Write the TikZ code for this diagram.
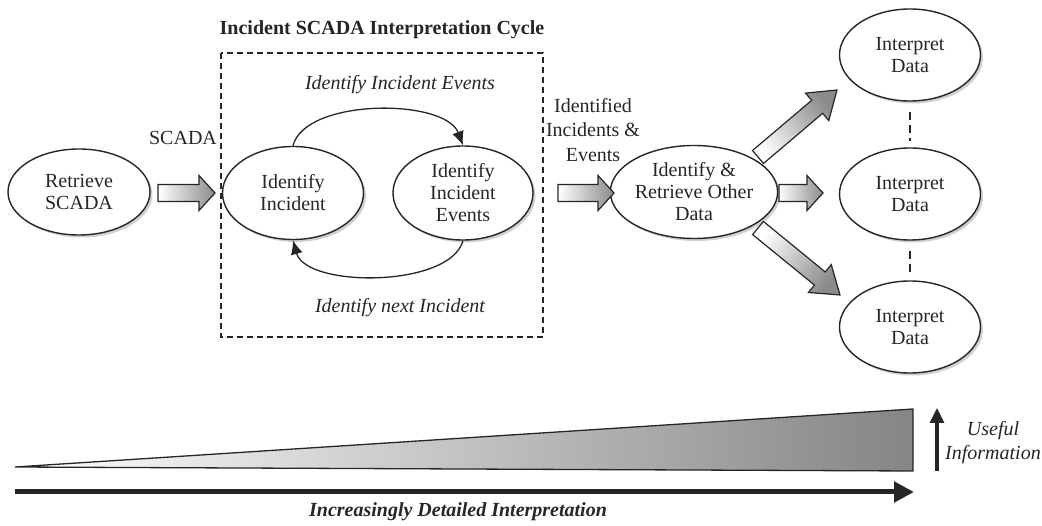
\documentclass[tikz,border=0pt]{standalone}
\usepackage{fontspec}
\setmainfont{Liberation Serif}
\usetikzlibrary{calc,shadows,shapes.geometric,arrows.meta}
\definecolor{ink}{HTML}{262626}
\definecolor{headgray}{HTML}{8A8A8A}
\definecolor{wedgegray}{HTML}{858585}
\tikzset{
  txt/.style={font=\fontsize{20}{22}\selectfont, text=ink, align=center, inner sep=0pt},
  itxt/.style={txt, font=\fontsize{20}{24}\selectfont\itshape},
  stage/.style={txt, ellipse, draw=ink, line width=1.4pt, fill=white,
    minimum width=141pt, minimum height=92pt,
    drop shadow={shadow xshift=2.5pt, shadow yshift=-2.5pt, fill=black!30, opacity=.6}},
  cycarrow/.style={draw=ink, line width=1.3pt, -{Latex[length=14pt,width=12pt]}},
  pics/fatarrow/.style n args={4}{code={
    \shade[draw=ink, line width=1.2pt, left color=white, right color=headgray, shading angle=#4]
      (0,-8.5) -- ({#1-#2},-8.5) -- ({#1-#2},-#3) -- (#1,0) -- ({#1-#2},#3)
      -- ({#1-#2},8.5) -- (0,8.5) -- cycle;}}
}
% block arrow from one named coordinate to another: head length, head half width
\newcommand\fatlink[4]{%
  \path let \p1=($(#2)-(#1)$), \n1={atan2(\y1,\x1)}, \n2={veclen(\x1,\y1)},
    \n3={\n1+90} in pic[rotate=\n1] at (#1) {fatarrow={\n2}{#3}{#4}{\n3}};}
\begin{document}
\begin{tikzpicture}[x=1pt,y=1pt]
\fill[white] (0,0) rectangle (1042,-526);
\useasboundingbox (0,0) rectangle (1042,-526);

% cycle frame and its labels
\node[txt, font=\fontsize{20}{22}\selectfont\bfseries] (title) at (382,-30) {Incident SCADA Interpretation Cycle};
\draw[ink, line width=1.2pt, dash pattern=on 6pt off 4pt] (221,-53) rectangle (543,-337);
\node[itxt] (upper) at (400,-85) {Identify Incident Events};
\node[itxt] (lower) at (400,-308) {Identify next Incident};
\node[txt] (scada) at (183,-138) {SCADA};
\node[txt, font=\fontsize{20}{24.5}\selectfont] (ident) at (593,-130) {Identified\\Incidents \&\\Events};

% process stages
\node[stage, minimum width=142pt, minimum height=86pt] (rs) at (79,-192) {Retrieve\\SCADA};
\node[stage, minimum height=93pt] (ii) at (293,-193) {Identify\\Incident};
\node[stage, minimum width=140pt, minimum height=94pt] (iie) at (463,-193) {Identify\\Incident\\Events};
\node[stage, minimum width=138pt, minimum height=93pt] (rod) at (694,-192) {Identify \&\\Retrieve Other\\Data};
\node[stage] (id1) at (910,-55) {Interpret\\Data};
\node[stage] (id2) at (910,-194) {Interpret\\Data};
\node[stage] (id3) at (910,-327) {Interpret\\Data};

% loop between the two cycle stages
\draw[cycarrow] (ii.north) .. controls (305,-98) and (445,-98) .. (iie.north);
\draw[cycarrow] (iie.south) .. controls (450,-288) and (306,-288) .. (ii.south);

% dashed links between the interpretation stages
\draw[ink, line width=1.2pt, dash pattern=on 8pt off 5pt, shorten <=10pt, shorten >=6pt] (id1.south) -- (id2.north);
\draw[ink, line width=1.2pt, dash pattern=on 8pt off 5pt, shorten <=10pt, shorten >=6pt] (id2.south) -- (id3.north);

% block arrows
\coordinate (f1s) at (158,-193); \coordinate (f1e) at (215,-193);
\coordinate (f2s) at (558,-193); \coordinate (f2e) at (614,-193);
\coordinate (f3s) at (779,-193); \coordinate (f3e) at (823,-193);
\coordinate (f4s) at (758,-157); \coordinate (f4e) at (837,-90);
\coordinate (f5s) at (758,-228); \coordinate (f5e) at (840,-295);
\fatlink{f1s}{f1e}{16}{17.5}
\fatlink{f2s}{f2e}{16}{17.5}
\fatlink{f3s}{f3e}{16}{17.5}
\fatlink{f4s}{f4e}{26}{18}
\fatlink{f5s}{f5e}{26}{18}

% growth wedge and axes
\coordinate (w0) at (15,-467);
\coordinate (w1) at (913,-409);
\coordinate (w2) at (913,-471);
\shade[draw=ink, line width=1.3pt, left color=white, right color=wedgegray] (w0) -- (w1) -- (w2) -- cycle;
\coordinate (u0) at (937,-471);
\coordinate (u1) at (937,-408);
\draw[ink, line width=3.2pt, -{Triangle[length=15pt,width=14pt]}] (u0) -- (u1);
\node[itxt] (useful) at (993,-443) {Useful\\Information};
\coordinate (b0) at (15,-492);
\coordinate (b1) at (914,-492);
\draw[ink, line width=5pt, -{Triangle[length=20pt,width=20pt]}] (b0) -- (b1);
\node[txt, font=\fontsize{20}{22}\selectfont\bfseries\itshape] (detail) at (458,-512) {Increasingly Detailed Interpretation};
\end{tikzpicture}
\end{document}
